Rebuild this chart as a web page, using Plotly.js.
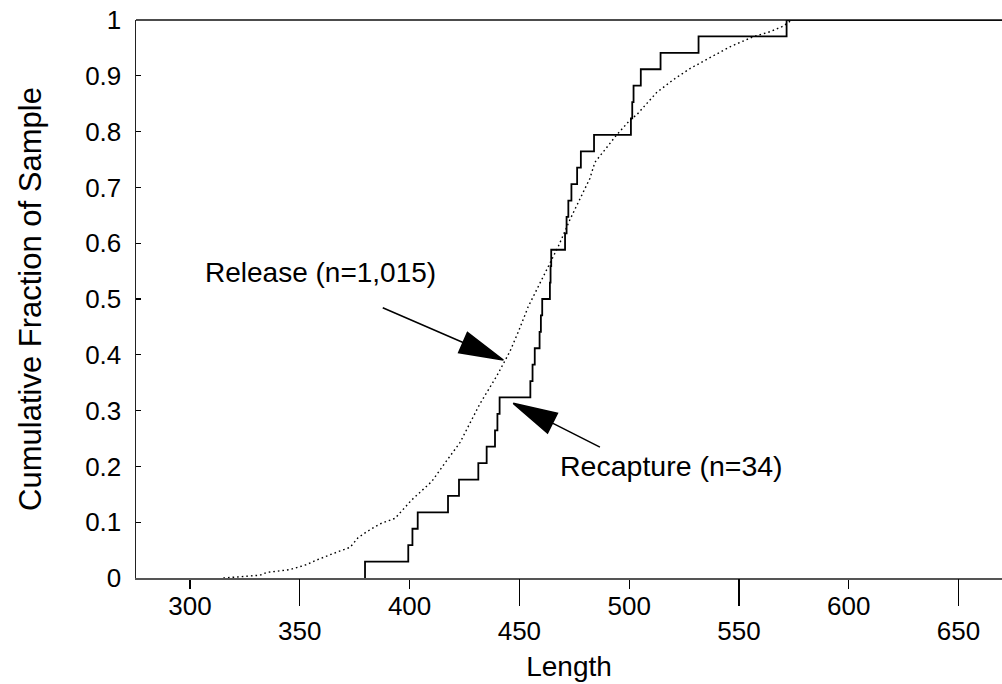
<!DOCTYPE html>
<html><head><meta charset="utf-8">
<script src="https://cdn.plot.ly/plotly-3.0.1.min.js"></script>
<style>html,body{margin:0;padding:0;background:#fff}</style>
</head><body><div id="chart" style="width:1002px;height:684px"></div>
<script>
const releaseLength = [315.2, 325.8, 331.9, 334.9, 345.5, 353.1, 356.9, 365.3, 372.9, 376.5, 380.5, 386.5, 393.4, 401.0, 410.1, 416.1, 423.0, 432.0, 439.7, 445.7, 449.5, 454.0, 460.9, 467.7, 473.0, 477.6, 482.1, 484.4, 494.3, 500.7, 503.4, 512.5, 520.1, 527.7, 536.8, 545.9, 556.5, 564.1, 570.2, 574.0];
const releaseFraction = [0, 0.003, 0.005, 0.010, 0.015, 0.024, 0.031, 0.044, 0.055, 0.072, 0.083, 0.097, 0.107, 0.140, 0.173, 0.206, 0.243, 0.312, 0.362, 0.406, 0.441, 0.486, 0.540, 0.594, 0.642, 0.680, 0.716, 0.745, 0.794, 0.822, 0.830, 0.870, 0.893, 0.913, 0.933, 0.952, 0.970, 0.979, 0.989, 1.0];

// Recapture sample (n=34): sorted lengths (one step per fish)
const recaptureLength = [379.7, 399.4, 401.3, 403.7, 417.5, 422.5, 431.3, 435.1, 438.9, 440.0, 441.0, 455.0, 456.0, 457.0, 459.2, 459.8, 460.4, 463.9, 464.2, 464.5, 470.8, 471.5, 472.3, 473.7, 476.3, 478.0, 484.0, 500.8, 501.4, 502.0, 505.3, 514.3, 531.6, 571.7];
const recaptureN = 34;

const xRange = [275.4, 669.8];
const xTicksUpper = [300, 400, 500, 600];
const xTicksLower = [350, 450, 550, 650];
const yTicks = [0, 0.1, 0.2, 0.3, 0.4, 0.5, 0.6, 0.7, 0.8, 0.9, 1];
const yTickText = ['0', '0.1', '0.2', '0.3', '0.4', '0.5', '0.6', '0.7', '0.8', '0.9', '1'];

// build step ECDF for recapture
const recX = [recaptureLength[0]];
const recY = [0];
recaptureLength.forEach((v, i) => { recX.push(v); recY.push((i + 1) / recaptureN); });
recX.push(xRange[1]); recY.push(1);

const FONT = 'Liberation Sans, Arial, Helvetica, sans-serif';

const traces = [
  {
    x: recX, y: recY, type: 'scatter', mode: 'lines', name: 'Recapture (n=34)',
    line: {shape: 'hv', color: '#000', width: 1.8}, xaxis: 'x', yaxis: 'y', hoverinfo: 'skip'
  },
  {
    x: releaseLength, y: releaseFraction, type: 'scatter', mode: 'lines', name: 'Release (n=1,015)',
    line: {color: '#000', width: 1.4, dash: '1.6px,3px'}, xaxis: 'x2', yaxis: 'y', hoverinfo: 'skip'
  }
];

const layout = {
  width: 1002, height: 684,
  margin: {l: 136, r: 0, t: 20, b: 106},
  paper_bgcolor: '#fff', plot_bgcolor: '#fff',
  showlegend: false,
  font: {family: FONT, color: '#000', size: 26},
  xaxis: {
    range: xRange, tickmode: 'array', tickvals: xTicksUpper, ticks: 'outside', ticklen: 9, tickwidth: 1.2, tickcolor: '#000',
    showline: true, linecolor: '#555', linewidth: 2, showgrid: false, zeroline: false,
    tickfont: {size: 26, family: FONT}, ticklabelstandoff: -5, automargin: false,
    title: {text: 'Length', font: {size: 28, family: FONT}, standoff: 36}
  },
  xaxis2: {
    overlaying: 'x', anchor: 'y', side: 'bottom', matches: 'x', range: xRange, tickmode: 'array', tickvals: xTicksLower,
    ticks: 'outside', ticklen: 27, tickwidth: 1.2, tickcolor: '#000', ticklabelstandoff: 3,
    showline: false, showgrid: false, zeroline: false, tickfont: {size: 26, family: FONT}, automargin: false
  },
  yaxis: {
    range: [0, 1], tickmode: 'array', tickvals: yTicks, ticktext: yTickText, ticks: 'inside', ticklen: 5, tickwidth: 1.2, tickcolor: '#000',
    showline: true, linecolor: '#222', linewidth: 1.5, showgrid: false, zeroline: false,
    tickfont: {size: 26, family: FONT}, ticklabelstandoff: 8, automargin: false,
    title: {text: 'Cumulative Fraction of Sample', font: {size: 31, family: FONT}, standoff: 34}
  },
  shapes: [
    {type: 'line', xref: 'paper', yref: 'paper', x0: 0, x1: 1, y0: 1, y1: 1, line: {color: '#111', width: 1.5}},
    {type: 'path', xref: 'x', yref: 'y', xsizemode: 'pixel', ysizemode: 'pixel', xanchor: 442.7, yanchor: 0.3907,
     path: 'M-120.6,52.3 L-40.3,17.5 M0,0 L-35.9,27.6 L-44.7,7.4 Z', line: {color: '#000', width: 1.5}, fillcolor: '#000'},
    {type: 'path', xref: 'x', yref: 'y', xsizemode: 'pixel', ysizemode: 'pixel', xanchor: 447.2, yanchor: 0.313,
     path: 'M86.7,-43.7 L39.3,-19.8 M0,0 L44.2,-10 L34.3,-29.6 Z', line: {color: '#000', width: 1.5}, fillcolor: '#000'}
  ],
  annotations: [
    {text: 'Release (n=1,015)', x: 359.2, y: 0.548, xref: 'x', yref: 'y', showarrow: false, font: {size: 28, family: FONT}},
    {text: 'Recapture (n=34)', x: 519.5, y: 0.2007, xref: 'x', yref: 'y', showarrow: false, font: {size: 28.5, family: FONT}}
  ]
};

Plotly.newPlot('chart', traces, layout, {displayModeBar: false, staticPlot: true});
</script>
</body></html>
